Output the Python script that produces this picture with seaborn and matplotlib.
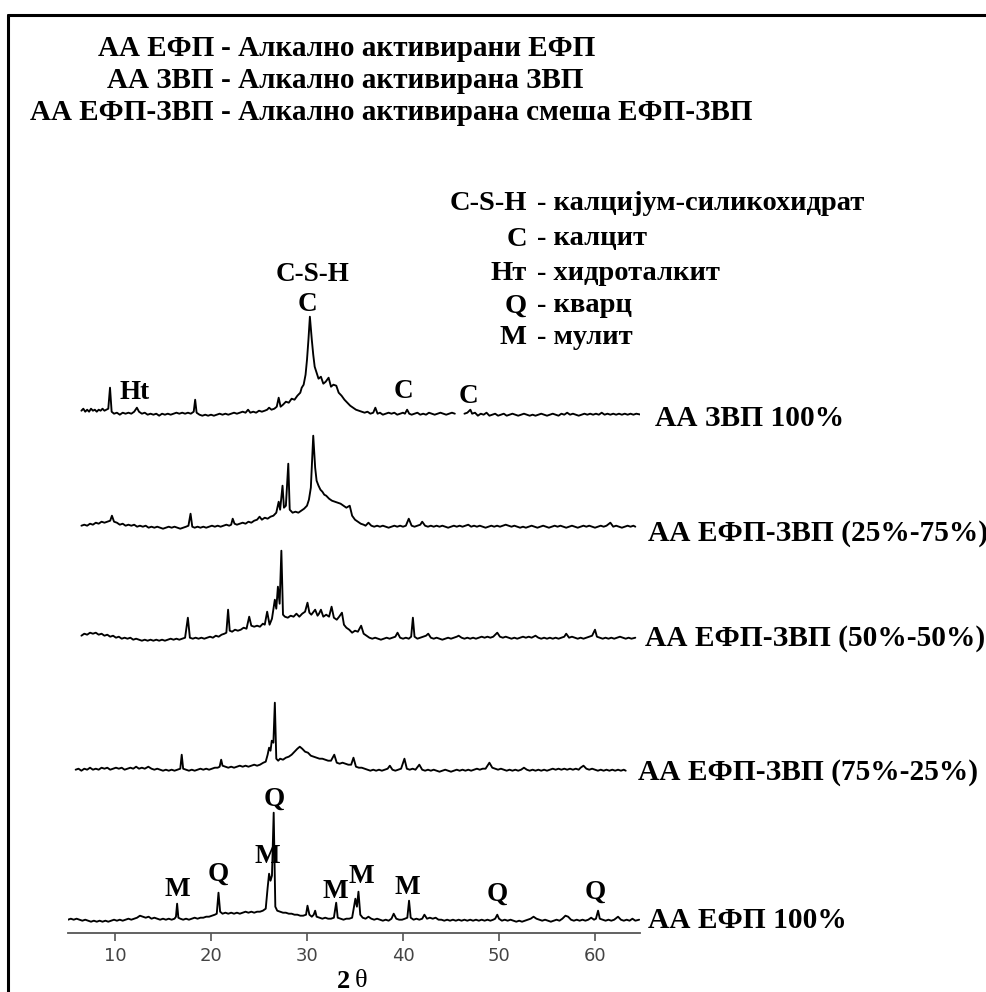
import matplotlib
matplotlib.use("Agg")
import matplotlib.pyplot as plt
from matplotlib.lines import Line2D
import pandas as pd
import seaborn as sns

sns.set_theme(style="white")
plt.rcParams["font.family"] = ["Liberation Serif", "DejaVu Serif"]

# ---------------------------------------------------------------------------
# XRD patterns (2θ in degrees, intensity in arbitrary units above each baseline)
# None marks a break in the recorded pattern.
# ---------------------------------------------------------------------------
zvp_100 = [
    (6.5, 4), (6.7, 6), (6.9, 3), (7.1, 5), (7.3, 3), (7.5, 6), (7.7, 4), (7.9, 5), (8.1, 3), (8.3, 5),
    (8.5, 4), (8.7, 6), (8.9, 4), (9.1, 5), (9.3, 6), (9.48, 27), (9.65, 3), (9.9, 1), (10.2, 2), (10.5, 0),
    (10.8, 2), (11.1, 1), (11.4, 2), (11.7, 1), (12.0, 3), (12.28, 7), (12.5, 3), (12.8, 1), (13.1, 2), (13.4, 0),
    (13.7, 1), (14.0, 0), (14.3, 1), (14.6, -1), (14.9, 1), (15.2, 0), (15.5, 1), (15.8, 0), (16.1, 1), (16.4, 2),
    (16.7, 1), (17.0, 2), (17.3, 1), (17.6, 2), (17.9, 1), (18.2, 3), (18.35, 15), (18.5, 2), (18.8, 0), (19.1, -1),
    (19.4, 0), (19.7, -1), (20.0, 0), (20.3, -1), (20.6, 0), (20.9, 1), (21.2, 0), (21.5, 1), (21.8, 0), (22.1, 1),
    (22.4, 2), (22.7, 1), (23.0, 2), (23.3, 3), (23.6, 2), (23.86, 5), (24.1, 2), (24.4, 3), (24.7, 2), (25.0, 4),
    (25.3, 3), (25.6, 4), (25.85, 5), (26.05, 7), (26.3, 5), (26.6, 6), (26.85, 8), (27.05, 17), (27.25, 8), (27.5, 10),
    (27.8, 13), (28.1, 12), (28.4, 16), (28.7, 15), (29.0, 19), (29.3, 22), (29.45, 27), (29.65, 30), (29.85, 40), (30.0, 55),
    (30.15, 75), (30.3, 98), (30.5, 75), (30.65, 60), (30.8, 48), (31.0, 42), (31.2, 36), (31.45, 38), (31.7, 31), (31.95, 33),
    (32.25, 37), (32.5, 28), (32.75, 30), (33.05, 29), (33.3, 22), (33.6, 19), (33.9, 15), (34.2, 12), (34.5, 9), (34.8, 7),
    (35.1, 5), (35.4, 4), (35.7, 3), (36.0, 2), (36.3, 3), (36.6, 1), (36.9, 2), (37.12, 7), (37.35, 1), (37.6, 2),
    (37.9, 0), (38.2, 1), (38.5, 2), (38.8, 1), (39.1, 2), (39.4, 0), (39.7, 1), (40.0, 2), (40.2, 1), (40.43, 5),
    (40.65, 1), (40.9, 0), (41.2, 1), (41.5, 2), (41.8, 0), (42.1, 1), (42.4, 0), (42.7, 2), (43.0, 1), (43.3, 0),
    (43.6, 1), (43.9, 2), (44.2, 1), (44.5, 0), (44.8, 1), (45.1, 2), (45.4, 1), None,
    (46.4, 1), (46.7, 2), (47.02, 5), (47.2, 1), (47.5, 2), (47.8, -1), (48.1, 1), (48.4, 0), (48.7, 2), (49.0, -1),
    (49.3, 0), (49.6, 1), (49.9, -1), (50.2, 0), (50.5, 1), (50.8, -1), (51.1, 0), (51.4, 1), (51.7, 0), (52.0, -1),
    (52.3, 0), (52.6, 1), (52.9, 0), (53.2, -1), (53.5, 0), (53.8, -1), (54.1, 0), (54.4, 1), (54.7, 0), (55.0, -1),
    (55.3, 0), (55.6, 1), (55.9, 0), (56.2, -1), (56.5, 1), (56.8, 0), (57.1, 2), (57.4, 0), (57.7, 1), (58.0, 0),
    (58.3, -1), (58.6, 0), (58.9, 1), (59.2, 0), (59.5, 1), (59.8, 0), (60.1, 1), (60.4, 0), (60.7, 2), (61.0, 0),
    (61.3, 1), (61.6, 0), (61.9, 1), (62.2, 0), (62.5, 1), (62.8, 0), (63.1, 1), (63.4, 0), (63.7, 1), (64.0, 0),
    (64.3, 1), (64.8, 0),
]

efp_zvp_25_75 = [
    (6.5, 2), (6.8, 3), (7.1, 2), (7.4, 4), (7.7, 3), (8.0, 5), (8.3, 4), (8.6, 6), (8.9, 5), (9.2, 6),
    (9.5, 7), (9.68, 12), (9.9, 6), (10.2, 5), (10.5, 3), (10.8, 4), (11.1, 2), (11.4, 3), (11.7, 2), (12.0, 3),
    (12.3, 1), (12.6, 2), (12.9, 1), (13.2, 2), (13.5, 0), (13.8, 1), (14.1, 0), (14.4, 1), (14.7, 0), (15.0, -1),
    (15.3, 0), (15.6, 1), (15.9, 0), (16.2, 1), (16.5, 0), (16.8, -1), (17.1, 0), (17.4, 1), (17.65, 2), (17.87, 14),
    (18.05, 1), (18.3, 0), (18.6, 1), (18.9, 0), (19.2, 1), (19.5, 0), (19.8, 1), (20.1, 2), (20.4, 1), (20.7, 2),
    (21.0, 1), (21.3, 2), (21.6, 3), (21.9, 2), (22.1, 3), (22.26, 9), (22.45, 4), (22.7, 3), (23.0, 4), (23.3, 5),
    (23.6, 4), (23.9, 6), (24.2, 5), (24.5, 7), (24.8, 8), (25.06, 11), (25.3, 8), (25.6, 10), (25.9, 9), (26.2, 11),
    (26.5, 12), (26.8, 15), (27.05, 26), (27.2, 18), (27.45, 42), (27.6, 20), (27.8, 22), (28.05, 64), (28.2, 18), (28.5, 15),
    (28.8, 16), (29.1, 15), (29.4, 17), (29.7, 19), (30.0, 22), (30.2, 28), (30.4, 40), (30.65, 92), (30.85, 60), (31.0, 47),
    (31.2, 42), (31.4, 38), (31.6, 36), (31.8, 33), (32.0, 32), (32.3, 29), (32.6, 27), (32.9, 26), (33.2, 25), (33.5, 24),
    (33.8, 22), (34.1, 20), (34.45, 22), (34.7, 12), (35.0, 8), (35.3, 6), (35.6, 4), (35.9, 3), (36.1, 2), (36.4, 5),
    (36.7, 2), (37.0, 1), (37.3, 2), (37.6, 1), (37.9, 2), (38.2, 1), (38.5, 0), (38.8, 1), (39.1, 2), (39.4, 1),
    (39.7, 2), (40.0, 1), (40.3, 2), (40.6, 9), (40.9, 2), (41.2, 1), (41.5, 2), (41.8, 3), (42.0, 6), (42.3, 2),
    (42.6, 1), (42.9, 2), (43.2, 1), (43.5, 2), (43.8, 1), (44.1, 2), (44.4, 1), (44.7, 0), (45.0, 1), (45.3, 2),
    (45.6, 1), (45.9, 2), (46.2, 1), (46.5, 2), (46.8, 3), (47.1, 1), (47.4, 2), (47.7, 1), (48.0, 2), (48.3, 1),
    (48.6, 0), (48.9, 1), (49.2, 2), (49.5, 1), (49.8, 2), (50.1, 1), (50.4, 2), (50.7, 3), (51.0, 2), (51.3, 1),
    (51.6, 2), (51.9, 1), (52.2, 0), (52.5, 1), (52.8, 0), (53.1, 1), (53.4, 2), (53.7, 1), (54.0, 0), (54.3, 1),
    (54.6, 2), (54.9, 1), (55.2, 0), (55.5, 1), (55.8, 2), (56.1, 1), (56.4, 2), (56.7, 1), (57.0, 0), (57.3, 1),
    (57.6, 2), (57.9, 1), (58.2, 0), (58.5, 1), (58.8, 2), (59.1, 1), (59.4, 2), (59.7, 1), (60.0, 0), (60.3, 1),
    (60.6, 2), (60.9, 1), (61.2, 2), (61.6, 5), (61.9, 1), (62.2, 2), (62.5, 1), (62.8, 0), (63.1, 1), (63.4, 2),
    (63.7, 1), (64.0, 2), (64.2, 1),
]

efp_zvp_50_50 = [
    (6.5, 3), (6.8, 5), (7.1, 4), (7.4, 6), (7.7, 5), (8.0, 6), (8.3, 4), (8.6, 5), (8.9, 3), (9.2, 4),
    (9.5, 2), (9.8, 3), (10.1, 1), (10.4, 2), (10.7, 0), (11.0, 1), (11.3, 0), (11.6, 1), (11.9, -1), (12.2, 0),
    (12.5, -1), (12.8, -2), (13.1, -1), (13.4, -2), (13.7, -1), (14.0, -2), (14.3, -1), (14.6, -2), (14.9, -1), (15.2, -2),
    (15.5, -1), (15.8, 0), (16.1, -1), (16.4, 0), (16.7, -1), (17.0, 0), (17.3, 1), (17.59, 21), (17.8, 1), (18.1, 0),
    (18.4, 1), (18.7, 0), (19.0, 1), (19.3, 0), (19.6, 1), (19.9, 2), (20.2, 1), (20.5, 3), (20.8, 2), (21.1, 4),
    (21.4, 5), (21.6, 6), (21.78, 29), (21.95, 8), (22.2, 7), (22.5, 9), (22.8, 8), (23.1, 9), (23.4, 11), (23.7, 10),
    (23.98, 22), (24.2, 13), (24.5, 12), (24.8, 13), (25.1, 12), (25.4, 15), (25.6, 14), (25.85, 27), (26.1, 14), (26.35, 20),
    (26.65, 39), (26.8, 30), (26.97, 52), (27.15, 35), (27.33, 88), (27.5, 24), (27.7, 22), (28.0, 21), (28.3, 23), (28.6, 22),
    (28.9, 25), (29.2, 22), (29.5, 25), (29.8, 27), (30.05, 36), (30.25, 26), (30.45, 24), (30.85, 29), (31.1, 23), (31.25, 25),
    (31.45, 29), (31.7, 22), (32.0, 24), (32.3, 22), (32.56, 32), (32.8, 21), (33.1, 19), (33.35, 22), (33.64, 26), (33.85, 14),
    (34.1, 11), (34.4, 9), (34.7, 6), (35.0, 8), (35.3, 7), (35.64, 13), (35.9, 5), (36.2, 3), (36.5, 1), (36.8, 0),
    (37.1, 1), (37.4, 0), (37.7, -1), (38.0, 0), (38.3, 1), (38.6, 0), (38.9, 1), (39.2, 2), (39.43, 6), (39.7, 1),
    (40.0, 0), (40.3, 1), (40.6, 0), (40.85, 2), (41.03, 21), (41.2, 2), (41.5, 0), (41.8, 1), (42.1, 2), (42.4, 3),
    (42.63, 5), (42.9, 1), (43.2, 0), (43.5, 1), (43.8, 0), (44.1, -1), (44.4, 0), (44.7, 1), (45.0, 0), (45.3, 1),
    (45.6, 2), (45.8, 3), (46.1, 1), (46.4, 0), (46.7, 1), (47.0, 0), (47.3, 1), (47.6, 0), (47.9, 1), (48.2, 2),
    (48.5, 1), (48.8, 2), (49.1, 1), (49.4, 2), (49.82, 6), (50.1, 2), (50.4, 1), (50.7, 2), (51.0, 1), (51.3, 0),
    (51.6, 1), (51.9, 0), (52.2, 1), (52.5, 2), (52.8, 1), (53.1, 2), (53.4, 1), (53.8, 3), (54.1, 1), (54.4, 0),
    (54.7, 1), (55.0, 0), (55.3, 1), (55.6, 0), (55.9, 1), (56.2, 0), (56.5, 1), (56.8, 2), (57.0, 5), (57.3, 1),
    (57.6, 2), (57.9, 1), (58.2, 0), (58.5, 1), (58.8, 0), (59.1, 1), (59.4, 2), (59.7, 3), (60.0, 9), (60.2, 2),
    (60.5, 1), (60.8, 0), (61.1, 1), (61.4, 0), (61.7, 1), (62.0, 0), (62.3, 1), (62.6, 2), (62.9, 1), (63.2, 0),
    (63.5, 1), (63.8, 0), (64.2, 1),
]

efp_zvp_75_25 = [
    (5.9, 1), (6.2, 2), (6.5, 0), (6.8, 2), (7.1, 1), (7.4, 3), (7.7, 1), (8.0, 2), (8.3, 1), (8.6, 3),
    (8.9, 2), (9.2, 3), (9.5, 1), (9.8, 2), (10.1, 3), (10.4, 2), (10.7, 3), (11.0, 1), (11.3, 2), (11.6, 3),
    (11.9, 2), (12.2, 4), (12.5, 2), (12.8, 3), (13.1, 2), (13.47, 4), (13.8, 2), (14.1, 1), (14.4, 2), (14.7, 1),
    (15.0, 0), (15.3, 1), (15.6, 0), (15.9, 1), (16.2, 0), (16.5, 1), (16.8, 2), (16.95, 16), (17.1, 2), (17.4, 1),
    (17.7, 0), (18.0, 1), (18.3, 0), (18.6, 1), (18.9, 2), (19.2, 1), (19.5, 2), (19.8, 1), (20.1, 2), (20.4, 3),
    (20.7, 3), (20.9, 4), (21.06, 11), (21.2, 5), (21.5, 4), (21.8, 3), (22.1, 4), (22.4, 3), (22.7, 4), (23.0, 5),
    (23.3, 4), (23.6, 5), (23.9, 4), (24.2, 5), (24.5, 6), (24.8, 5), (25.1, 6), (25.45, 8), (25.7, 9), (25.9, 16),
    (26.05, 23), (26.2, 20), (26.33, 30), (26.5, 28), (26.65, 68), (26.8, 12), (27.0, 10), (27.2, 12), (27.5, 11), (27.8, 13),
    (28.1, 14), (28.4, 16), (28.7, 19), (29.0, 22), (29.25, 24), (29.5, 22), (29.8, 19), (30.1, 18), (30.4, 15), (30.7, 14),
    (31.0, 13), (31.3, 12), (31.6, 12), (31.9, 11), (32.2, 10), (32.5, 10), (32.84, 16), (33.1, 8), (33.4, 7), (33.7, 8),
    (34.0, 7), (34.3, 6), (34.6, 6), (34.84, 13), (35.1, 4), (35.4, 3), (35.7, 3), (36.0, 2), (36.3, 1), (36.6, 0),
    (36.9, 1), (37.2, 0), (37.5, 1), (37.8, 0), (38.1, 1), (38.4, 2), (38.63, 5), (38.9, 1), (39.2, 0), (39.5, 1),
    (39.8, 2), (40.15, 12), (40.4, 2), (40.7, 1), (41.0, 2), (41.3, 1), (41.7, 6), (42.0, 1), (42.3, 0), (42.6, 1),
    (42.9, 0), (43.2, 1), (43.5, 0), (43.8, -1), (44.1, 0), (44.4, 1), (44.7, 0), (45.0, -1), (45.3, 0), (45.6, 1),
    (45.9, 0), (46.2, 1), (46.5, 0), (46.8, 1), (47.1, 0), (47.4, 1), (47.7, 2), (48.0, 1), (48.3, 2), (48.6, 2),
    (49.0, 8), (49.3, 3), (49.6, 2), (49.9, 1), (50.2, 2), (50.5, 1), (50.8, 0), (51.1, 1), (51.4, 0), (51.7, 1),
    (52.0, 0), (52.3, 1), (52.6, 3), (52.9, 1), (53.2, 0), (53.5, 1), (53.8, 0), (54.1, 1), (54.4, 0), (54.7, 1),
    (55.0, 0), (55.3, 1), (55.6, 2), (55.9, 1), (56.2, 2), (56.5, 1), (56.8, 2), (57.1, 1), (57.4, 2), (57.7, 1),
    (58.0, 2), (58.3, 1), (58.5, 3), (58.8, 5), (59.1, 2), (59.4, 1), (59.7, 2), (60.0, 1), (60.3, 0), (60.6, 1),
    (60.9, 0), (61.2, 1), (61.5, 0), (61.8, 1), (62.1, 0), (62.4, 1), (62.7, 0), (63.0, 1), (63.2, 0),
]

efp_100 = [
    (5.1, 1), (5.4, 2), (5.7, 1), (6.0, 2), (6.3, 1), (6.6, 0), (6.9, 1), (7.2, 0), (7.5, -1), (7.8, 0),
    (8.1, -1), (8.4, 0), (8.7, -1), (9.0, 0), (9.3, -1), (9.6, 0), (9.9, 1), (10.2, 0), (10.5, 1), (10.8, 0),
    (11.1, 1), (11.4, 2), (11.7, 1), (12.0, 2), (12.3, 3), (12.6, 5), (12.9, 4), (13.2, 3), (13.5, 4), (13.8, 2),
    (14.1, 3), (14.4, 2), (14.7, 1), (15.0, 2), (15.3, 1), (15.6, 2), (15.9, 1), (16.2, 2), (16.35, 4), (16.47, 17),
    (16.6, 3), (16.8, 2), (17.1, 1), (17.4, 2), (17.7, 1), (18.0, 2), (18.3, 3), (18.6, 2), (18.9, 3), (19.2, 3),
    (19.5, 4), (19.8, 4), (20.1, 5), (20.4, 6), (20.6, 7), (20.78, 28), (20.95, 9), (21.2, 7), (21.5, 8), (21.8, 7),
    (22.1, 8), (22.4, 7), (22.7, 8), (23.0, 7), (23.3, 8), (23.6, 9), (23.9, 8), (24.2, 9), (24.5, 8), (24.8, 9),
    (25.1, 9), (25.4, 10), (25.7, 12), (25.9, 33), (26.05, 47), (26.2, 40), (26.35, 45), (26.53, 108), (26.7, 14), (26.9, 10),
    (27.2, 9), (27.5, 8), (27.8, 8), (28.1, 7), (28.4, 7), (28.7, 6), (29.0, 6), (29.3, 5), (29.6, 5), (29.9, 6),
    (30.05, 15), (30.25, 6), (30.5, 4), (30.7, 6), (30.85, 10), (31.0, 4), (31.3, 3), (31.6, 2), (31.9, 3), (32.2, 2),
    (32.5, 2), (32.8, 3), (33.04, 18), (33.2, 3), (33.5, 2), (33.8, 1), (34.1, 2), (34.4, 2), (34.7, 3), (35.04, 22),
    (35.2, 14), (35.36, 29), (35.55, 6), (35.8, 3), (36.1, 2), (36.4, 4), (36.7, 2), (37.0, 1), (37.3, 2), (37.6, 1),
    (37.9, 0), (38.2, 1), (38.5, 0), (38.8, 2), (39.03, 7), (39.3, 2), (39.6, 1), (39.9, 1), (40.2, 2), (40.45, 3),
    (40.63, 20), (40.8, 3), (41.1, 1), (41.4, 2), (41.7, 1), (42.0, 2), (42.23, 6), (42.5, 2), (42.8, 3), (43.1, 2),
    (43.4, 3), (43.7, 1), (44.0, 1), (44.3, 0), (44.6, 1), (44.9, 0), (45.2, 1), (45.5, 0), (45.8, 1), (46.1, 0),
    (46.4, 1), (46.7, 0), (47.0, 1), (47.3, 0), (47.6, 1), (47.9, 0), (48.2, 1), (48.5, 0), (48.8, 1), (49.1, 0),
    (49.4, 1), (49.6, 2), (49.82, 6), (50.0, 2), (50.3, 0), (50.6, 1), (50.9, 0), (51.2, 1), (51.5, 0), (51.8, -1),
    (52.1, 0), (52.4, -1), (52.7, 0), (53.0, 1), (53.3, 2), (53.6, 4), (53.9, 2), (54.2, 1), (54.5, 0), (54.8, 1),
    (55.1, 0), (55.4, -1), (55.7, 0), (56.0, 1), (56.3, 0), (56.6, 2), (56.92, 5), (57.2, 4), (57.5, 1), (57.8, 0),
    (58.1, 1), (58.4, 0), (58.7, 1), (59.0, 0), (59.3, 1), (59.6, 3), (59.9, 1), (60.1, 2), (60.32, 10), (60.5, 2),
    (60.8, 1), (61.1, 0), (61.4, 1), (61.7, 0), (62.0, 1), (62.4, 4), (62.7, 1), (63.0, 0), (63.3, 1), (63.6, 0),
    (63.9, 2), (64.2, 0), (64.6, 1),
]

sample_names = ["АА ЗВП 100%", "АА ЕФП-ЗВП (25%-75%)", "АА ЕФП-ЗВП (50%-50%)",
                "АА ЕФП-ЗВП (75%-25%)", "АА ЕФП 100%"]
patterns = [zvp_100, efp_zvp_25_75, efp_zvp_50_50, efp_zvp_75_25, efp_100]
stack_offsets = [518, 405, 294, 162, 12]

# phase markers: (label, 2θ, height above the axis)
efp_markers = [("M", 16.47, 43), ("Q", 20.78, 58), ("M", 25.85, 76), ("Q", 26.6, 133),
               ("M", 32.96, 41), ("M", 35.64, 56), ("M", 40.43, 45), ("Q", 49.82, 38), ("Q", 60.0, 40)]
zvp_markers = [("C-S-H", 30.6, 658), ("C", 30.0, 628), ("Ht", 12.08, 540),
               ("C", 40.03, 541), ("C", 46.82, 536)]

abbreviations = ["АА ЕФП", "АА ЗВП", "АА ЕФП-ЗВП"]
abbreviation_meanings = ["Алкално активирани ЕФП", "Алкално активирана ЗВП",
                         "Алкално активирана смеша ЕФП-ЗВП"]
phase_keys = ["C-S-H", "C", "Нт", "Q", "M"]
phase_names = ["калцијум-силикохидрат", "калцит", "хидроталкит", "кварц", "мулит"]
x_ticks = [10, 20, 30, 40, 50, 60]

# ---------------------------------------------------------------------------
# long-form table: one row per point, a new segment after each break
rows = []
for name, pts, off in zip(sample_names, patterns, stack_offsets):
    seg = 0
    for p in pts:
        if p is None:
            seg += 1
            continue
        rows.append({"sample": name, "seg": seg, "two_theta": p[0], "intensity": p[1] + off})
df = pd.DataFrame(rows)

W, H = 987, 992
fig = plt.figure(figsize=(W / 100, H / 100), dpi=100)


def fx(px):
    return px / W


def fy(py):
    return 1 - py / H


# axes geometry in pixels
X10, PX_PER_DEG = 115, 9.6
xmin, xmax = 5.1, 64.7
left_px = X10 + (xmin - 10) * PX_PER_DEG
right_px = X10 + (xmax - 10) * PX_PER_DEG
axis_py, top_py = 932.7, 15
ax = fig.add_axes([fx(left_px), fy(axis_py), (right_px - left_px) / W, (axis_py - top_py) / H])
ax.patch.set_alpha(0)
ax.set_xlim(xmin, xmax)
ax.set_ylim(0, axis_py - top_py)

for name in sample_names:
    sub = df[df["sample"] == name]
    sns.lineplot(data=sub, x="two_theta", y="intensity", units="seg", estimator=None,
                 sort=False, color="black", linewidth=1.35, ax=ax, legend=False)

ax.set_xlabel("")
ax.set_ylabel("")
ax.set_yticks([])
ax.set_xticks(x_ticks)
ax.set_xticklabels([str(t) for t in x_ticks])
ax.tick_params(axis="x", direction="out", length=6, width=1.2, color="#555555",
               labelcolor="#444444", labelsize=13, pad=4, bottom=True)
for lbl in ax.get_xticklabels():
    lbl.set_fontfamily("DejaVu Sans")
for s in ["left", "top", "right"]:
    ax.spines[s].set_visible(False)
ax.spines["bottom"].set_color("#555555")
ax.spines["bottom"].set_linewidth(1.3)

bold = dict(fontweight="bold", color="black")

# sample names at the right end of each pattern
label_pos = [(66.25, 514.7), (65.52, 399.7), (65.2, 294.7), (64.48, 160.7), (65.52, 12.7)]
for name, (lx, ly) in zip(sample_names, label_pos):
    ax.text(lx, ly, name, ha="left", va="center", fontsize=21.2, clip_on=False, **bold)

# phase markers
for lab, x, y in efp_markers + zvp_markers:
    ax.text(x, y, lab, ha="center", va="center", fontsize=19.5, clip_on=False, **bold)

# x-axis title: bold "2", regular theta
fig.text(fx(350), fy(981), "2", ha="right", va="center", fontsize=19, **bold)
fig.text(fx(355), fy(981), "θ", ha="left", va="center", fontsize=19, color="black")

# sample abbreviations, aligned on the dash
for abbr, meaning, py in zip(abbreviations, abbreviation_meanings, [49, 81, 112]):
    fig.text(fx(214), fy(py), abbr, ha="right", va="center", fontsize=21, **bold)
    fig.text(fx(221), fy(py), "- " + meaning, ha="left", va="center", fontsize=21, **bold)

# phase key, aligned on the dash
for key, desc, py in zip(phase_keys, phase_names, [204, 239, 273, 306, 338]):
    fig.text(fx(527), fy(py), key, ha="right", va="center", fontsize=20.5, **bold)
    fig.text(fx(537), fy(py), "- " + desc, ha="left", va="center", fontsize=20.5, **bold)

# frame lines along the top and left edges
fig.add_artist(Line2D([fx(8), fx(W)], [fy(15), fy(15)], color="black", linewidth=2.2))
fig.add_artist(Line2D([fx(8), fx(8)], [fy(15), fy(H)], color="black", linewidth=2.2))

fig.savefig("out.png", dpi=100)
